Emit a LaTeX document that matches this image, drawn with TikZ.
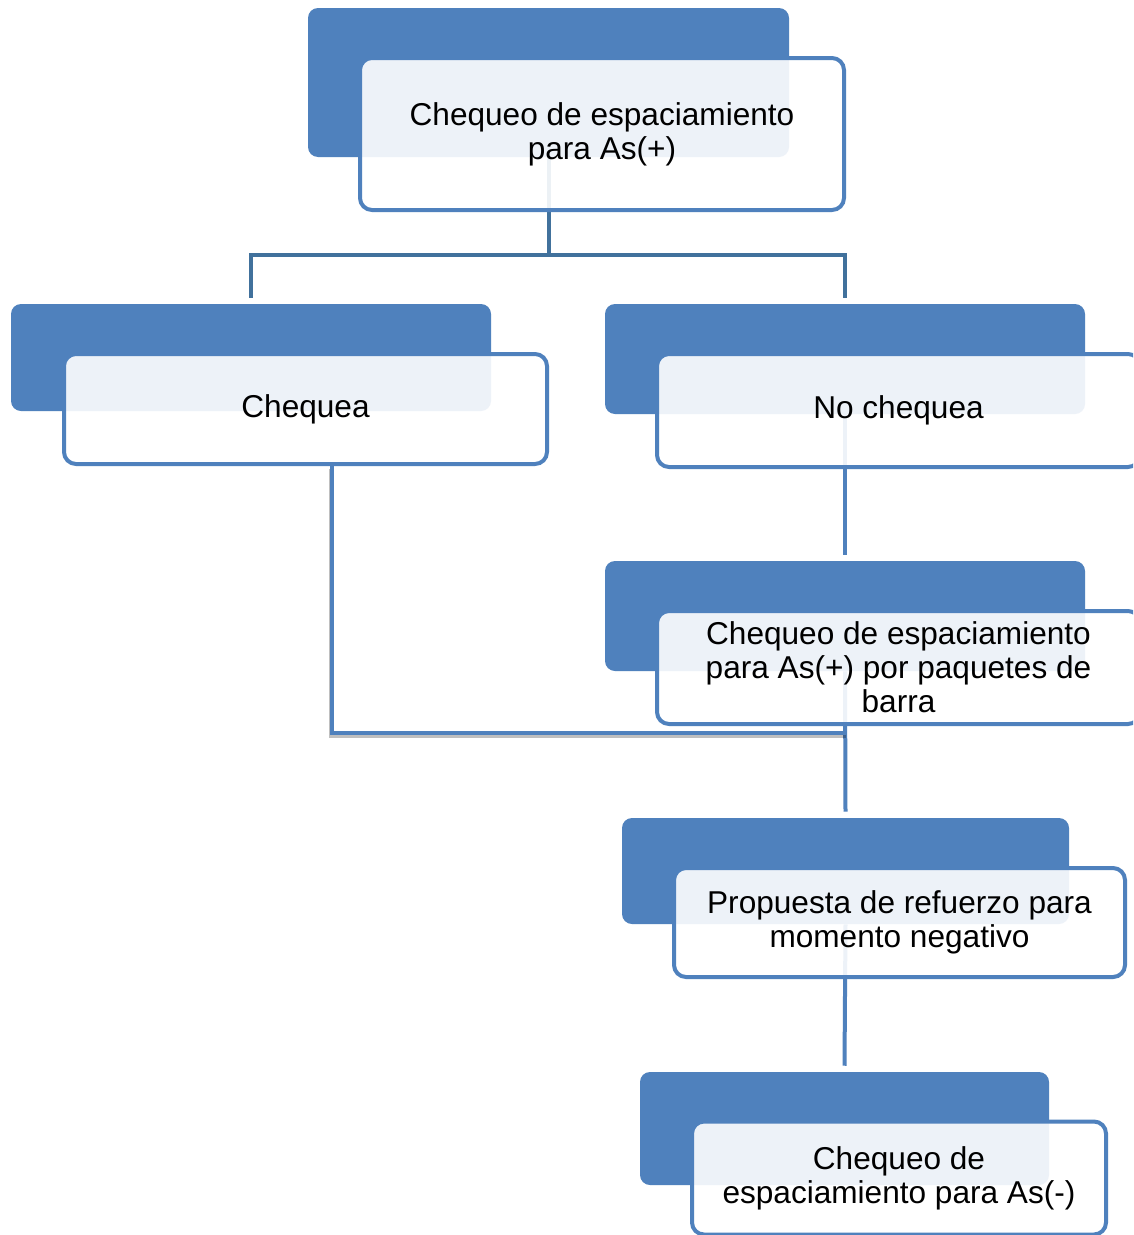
\documentclass[tikz,border=0pt]{standalone}
\usepackage{fontspec}
\setmainfont{Liberation Sans}
\definecolor{myblue}{HTML}{4F81BD}
\definecolor{darkconn}{HTML}{41719C}
\tikzset{
  backbox/.style={rectangle, rounded corners=7.5pt, fill=myblue, draw=none, inner sep=0pt},
  frontbox/.style={rectangle, rounded corners=9pt, draw=myblue, line width=3pt, fill=white,
    fill opacity=0.9, text opacity=1, align=center, inner sep=0pt,
    font=\fontsize{23.7}{25.5}\selectfont},
  topconn/.style={draw=darkconn, line width=3pt},
  conn/.style={draw=myblue, line width=3pt},
  connshadow/.style={draw=black, opacity=0.25, line width=3pt}
}
\begin{document}
\begin{tikzpicture}[x=0.75pt,y=-0.75pt]
\useasboundingbox (0,0) rectangle (1133,1235);
\clip (0,0) rectangle (1133,1235);
\fill[white] (0,0) rectangle (1133,1235);
% back boxes
\node[backbox, minimum width=360.75pt, minimum height=111.75pt] (b1) at (548.5,82.5) {};
\node[backbox, minimum width=360pt, minimum height=80.25pt] (b2) at (251,357.5) {};
\node[backbox, minimum width=360pt, minimum height=82.5pt] (b3) at (845,359) {};
\node[backbox, minimum width=360pt, minimum height=82.5pt] (b4) at (845,616) {};
\node[backbox, minimum width=335.25pt, minimum height=79.5pt] (b5) at (845.5,871) {};
\node[backbox, minimum width=306.75pt, minimum height=84.75pt] (b6) at (844.5,1128.5) {};
% connectors
\coordinate (hb) at (0,255);
\coordinate (jn) at (846,733);
\draw[topconn] (b1.south) -- (b1.south |- hb);
\draw[topconn] ([yshift=4.5pt]b2.north) -- (b2.north |- hb) -- (b3.north |- hb) -- ([yshift=4.5pt]b3.north);
\draw[conn] (b3.south) -- ([yshift=4.5pt]b4.north);
\draw[conn] (b4.south) -- ([yshift=4.5pt]b5.north);
\draw[conn] (b5.south) -- ([yshift=4.5pt]b6.north);
% front boxes
\node[frontbox, minimum width=363pt, minimum height=114pt] (f1) at (602,134) {Chequeo de espaciamiento\\para As(+)};
\node[frontbox, minimum width=362.25pt, minimum height=82.5pt] (f2) at (305.5,409) {Chequea};
\node[frontbox, minimum width=362.25pt, minimum height=84.75pt] (f3) at (898.5,410.5) {No chequea};
\node[frontbox, minimum width=362.25pt, minimum height=84.75pt] (f4) at (898.5,667.5) {Chequeo de espaciamiento\\para As(+) por paquetes de\\barra};
\node[frontbox, minimum width=338.25pt, minimum height=81.75pt] (f5) at (899.5,922.5) {Propuesta de refuerzo para\\momento negativo};
\node[frontbox, minimum width=310.5pt, minimum height=84.75pt] (f6) at (899,1178) {Chequeo de\\espaciamiento para As(-)};
% connector from Chequea with shadow
\draw[connshadow] ([xshift=19.1pt,yshift=-2pt]f2.south) |- ([xshift=0pt,yshift=-2pt]jn);
\draw[conn] ([xshift=19.9pt]f2.south) |- (jn);
\end{tikzpicture}
\end{document}
